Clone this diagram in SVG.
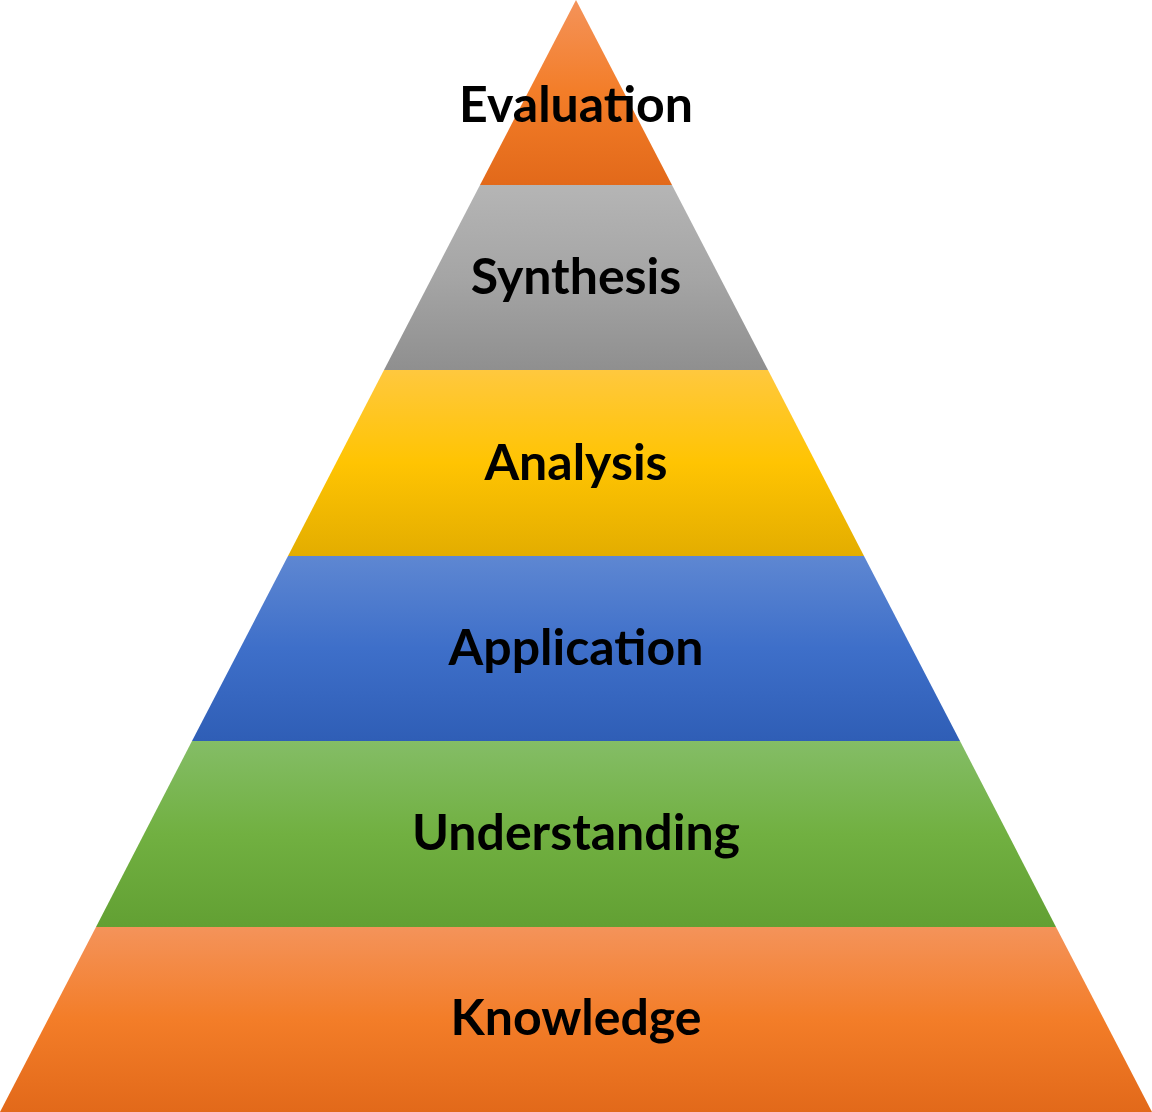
<svg xmlns="http://www.w3.org/2000/svg" width="1152" height="1112" viewBox="0 0 1152 1112">
<defs>
<linearGradient id="gO" x1="0" y1="0" x2="0" y2="1"><stop offset="0" stop-color="#F4935A"/><stop offset="0.5" stop-color="#F37D28"/><stop offset="1" stop-color="#E2691A"/></linearGradient>
<linearGradient id="gG" x1="0" y1="0" x2="0" y2="1"><stop offset="0" stop-color="#B5B5B5"/><stop offset="0.5" stop-color="#A5A5A5"/><stop offset="1" stop-color="#8F8F8F"/></linearGradient>
<linearGradient id="gY" x1="0" y1="0" x2="0" y2="1"><stop offset="0" stop-color="#FFC83E"/><stop offset="0.5" stop-color="#FFC402"/><stop offset="1" stop-color="#E3AD00"/></linearGradient>
<linearGradient id="gB" x1="0" y1="0" x2="0" y2="1"><stop offset="0" stop-color="#5E87D2"/><stop offset="0.5" stop-color="#3E6FC9"/><stop offset="1" stop-color="#2F5EB6"/></linearGradient>
<linearGradient id="gN" x1="0" y1="0" x2="0" y2="1"><stop offset="0" stop-color="#84BD66"/><stop offset="0.5" stop-color="#71B041"/><stop offset="1" stop-color="#62A033"/></linearGradient>
</defs>
<style>text{font-family:Lato,"Open Sans","Liberation Sans",sans-serif;font-weight:bold;font-size:50px;fill:#000;text-anchor:middle}</style>
<g id="evaluation"><polygon points="576,0 672,185 480,185" fill="url(#gO)"/><text x="576" y="122">Evaluation</text></g>
<g id="synthesis"><polygon points="480,185 672,185 768,370 384,370" fill="url(#gG)"/><text x="576" y="294">Synthesis</text></g>
<g id="analysis"><polygon points="384,370 768,370 864,556 288,556" fill="url(#gY)"/><text x="576" y="480">Analysis</text></g>
<g id="application"><polygon points="288,556 864,556 960,741 192,741" fill="url(#gB)"/><text x="576" y="665">Application</text></g>
<g id="understanding"><polygon points="192,741 960,741 1056,927 96,927" fill="url(#gN)"/><text x="576" y="850">Understanding</text></g>
<g id="knowledge"><polygon points="96,927 1056,927 1152,1112 0,1112" fill="url(#gO)"/><text x="576" y="1035">Knowledge</text></g>
<g id="connectors"/>
</svg>
